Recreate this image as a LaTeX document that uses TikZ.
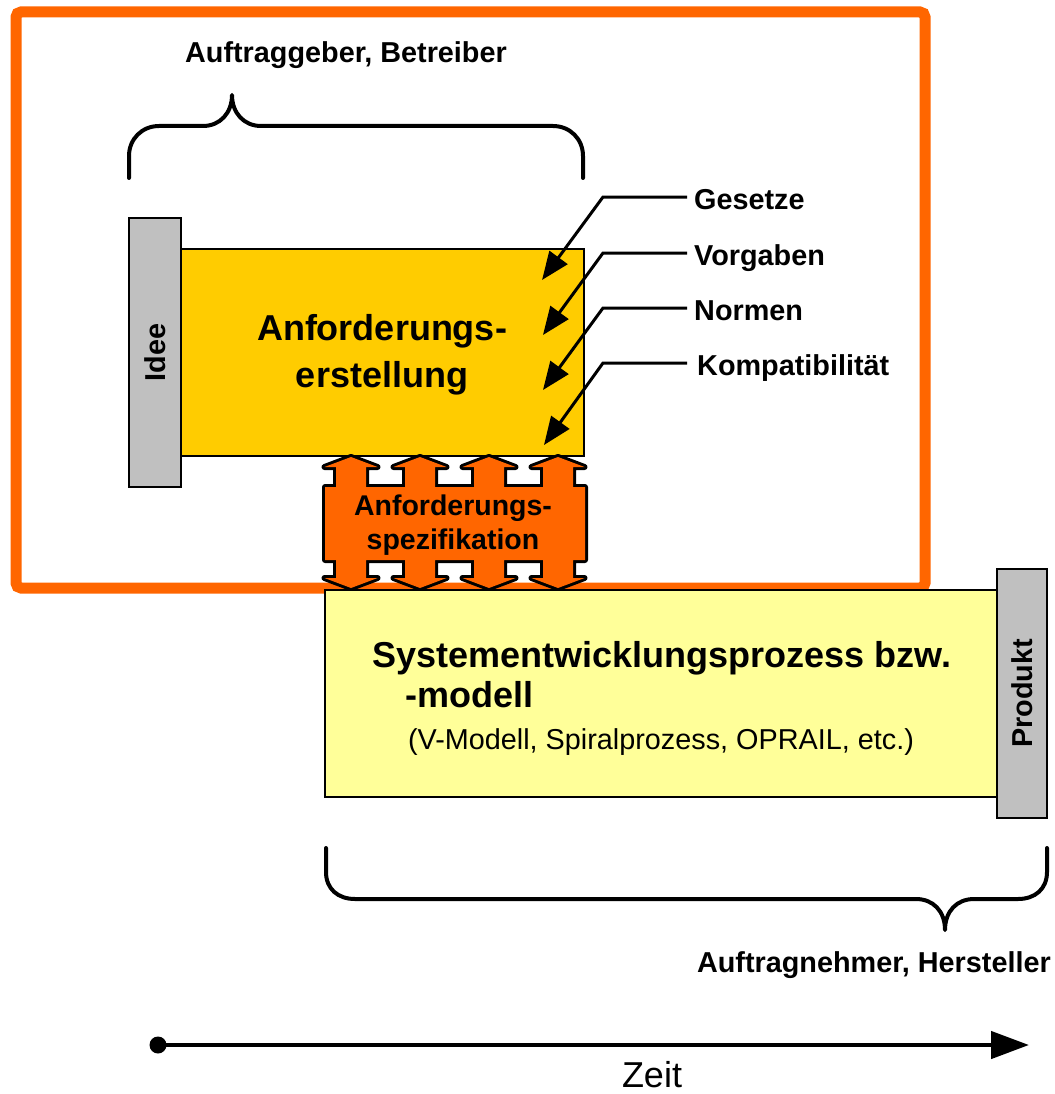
\documentclass[tikz,border=0pt]{standalone}
\usepackage{fontspec}
\setmainfont{Liberation Sans}
\usetikzlibrary{arrows.meta}
\definecolor{frameorange}{HTML}{FF6600}
\definecolor{reqyellow}{HTML}{FFCC00}
\definecolor{syslight}{HTML}{FFFF99}
\definecolor{bargray}{HTML}{C0C0C0}
\begin{document}
\begin{tikzpicture}[x=1pt,y=-1pt,
  lbl/.style={font=\fontsize{28.8}{34}\selectfont\bfseries, inner sep=0pt,
              text height=20.6pt, text depth=0pt},
  plain/.style={font=\fontsize{28.8}{34}\selectfont, inner sep=0pt,
              text height=20.6pt, text depth=0pt},
  big/.style={font=\fontsize{36}{47}\selectfont\bfseries, inner sep=0pt, align=center},
  box/.style={draw=black, line width=2.5pt},
  brace/.style={line width=4pt, line cap=round, line join=round},
  pointer/.style={line width=3pt, -{Triangle[length=28pt,width=22pt]}},
]
\useasboundingbox (0,0) rectangle (1054,1094);

% client side frame
\draw[frameorange, line width=11pt, rounded corners=5pt] (16,12) rectangle (925,588);

% requirements engineering box with the "Idee" bar
\node[box, fill=reqyellow, minimum width=403pt, minimum height=207pt]
  (req) at (382.5,352.5) {};
\node[big] (reqtext) at (382,355) {Anforderungs-\\erstellung};
\node[box, fill=bargray, minimum width=52pt, minimum height=269pt] (idee) at (155,352.5) {};
\node[lbl, rotate=90] (ideetext) at (idee.center) {Idee};

% specification: four up-down arrows joined by a body
\def\specshape{%
  \foreach \cx in {351,420,489,558} {
    (\cx-15,467) -- (\cx-15,578) -- (\cx-26.5,578) -- (\cx,588) -- (\cx+26.5,578)
    -- (\cx+15,578) -- (\cx+15,467) -- (\cx+26.5,467) -- (\cx,457) -- (\cx-26.5,467) -- cycle
  }
  (325,487) rectangle (585,560)}
\draw[black, line width=6pt, line join=round] \specshape;
\fill[frameorange] \specshape;
\node[font=\fontsize{28.5}{34}\selectfont\bfseries, align=center, inner sep=0pt]
  (spec) at (453,525) {Anforderungs-\\spezifikation};

% system development box with the "Produkt" bar
\node[box, fill=syslight, minimum width=672pt, minimum height=207pt] (sys) at (661,693.5) {};
\node[font=\fontsize{36}{44}\selectfont\bfseries, inner sep=0pt, text height=25.8pt, text depth=0pt]
  (systitle) at (662,655) {Systementwicklungsprozess bzw.};
\node[font=\fontsize{36}{44}\selectfont\bfseries, inner sep=0pt, text height=25.8pt, text depth=0pt, anchor=west]
  (sysmodel) at (405,695) {-modell};
\node[plain] (sysnote) at (661,739) {(V-Modell, Spiralprozess, OPRAIL, etc.)};
\node[box, fill=bargray, minimum width=50pt, minimum height=249pt] (prod) at (1022,693.5) {};
\node[lbl, rotate=90] (prodtext) at (prod.center) {Produkt};

% external constraints pointing into the requirements box
\node[lbl, anchor=west] (ges) at (694,199) {Gesetze};
\node[lbl, anchor=west] (vor) at (694,255) {Vorgaben};
\node[lbl, anchor=west] (nor) at (694,310) {Normen};
\node[lbl, anchor=west] (kom) at (697,365) {Kompatibilität};
\coordinate (gesk) at (603,197); \coordinate (gest) at (542,280);
\coordinate (vork) at (603,253); \coordinate (vort) at (543,335);
\coordinate (nork) at (603,308); \coordinate (nort) at (543,390);
\coordinate (komk) at (603,363); \coordinate (komt) at (544,445);
\draw[pointer] ([xshift=-7pt,yshift=2pt]ges.west) -- (gesk) -- (gest);
\draw[pointer] ([xshift=-7pt,yshift=2pt]vor.west) -- (vork) -- (vort);
\draw[pointer] ([xshift=-7pt,yshift=2pt]nor.west) -- (nork) -- (nort);
\draw[pointer] ([xshift=-10pt,yshift=2pt]kom.west) -- (komk) -- (komt);

% braces for the two parties
\node[lbl] (client) at (346,52) {Auftraggeber, Betreiber};
\draw[brace] (129,178) -- (129,156) .. controls (129,139) and (142,126) .. (159,126)
  -- (203,126) .. controls (220,126) and (232,113) .. (232,95)
  .. controls (232,113) and (244,126) .. (261,126)
  -- (553,126) .. controls (570,126) and (583,139) .. (583,156) -- (583,178);
\node[lbl, anchor=east] (contractor) at (1051,962) {Auftragnehmer, Hersteller};
\draw[brace] (326,848) -- (326,872) .. controls (326,889) and (338,899) .. (355,899)
  -- (916,899) .. controls (933,899) and (945,911) .. (945,930)
  .. controls (945,911) and (957,899) .. (974,899)
  -- (1018,899) .. controls (1035,899) and (1047,889) .. (1047,872) -- (1047,848);

% time axis
\node[circle, fill=black, inner sep=0pt, minimum size=17pt] (t0) at (158,1045) {};
\coordinate (t1) at (1029,1045);
\draw[line width=4.5pt, -{Triangle[length=38pt,width=27pt]}] (t0.center) -- (t1);
\node[font=\fontsize{36}{44}\selectfont, inner sep=0pt, anchor=base] (zeit) at (652,1087) {Zeit};
\end{tikzpicture}
\end{document}
